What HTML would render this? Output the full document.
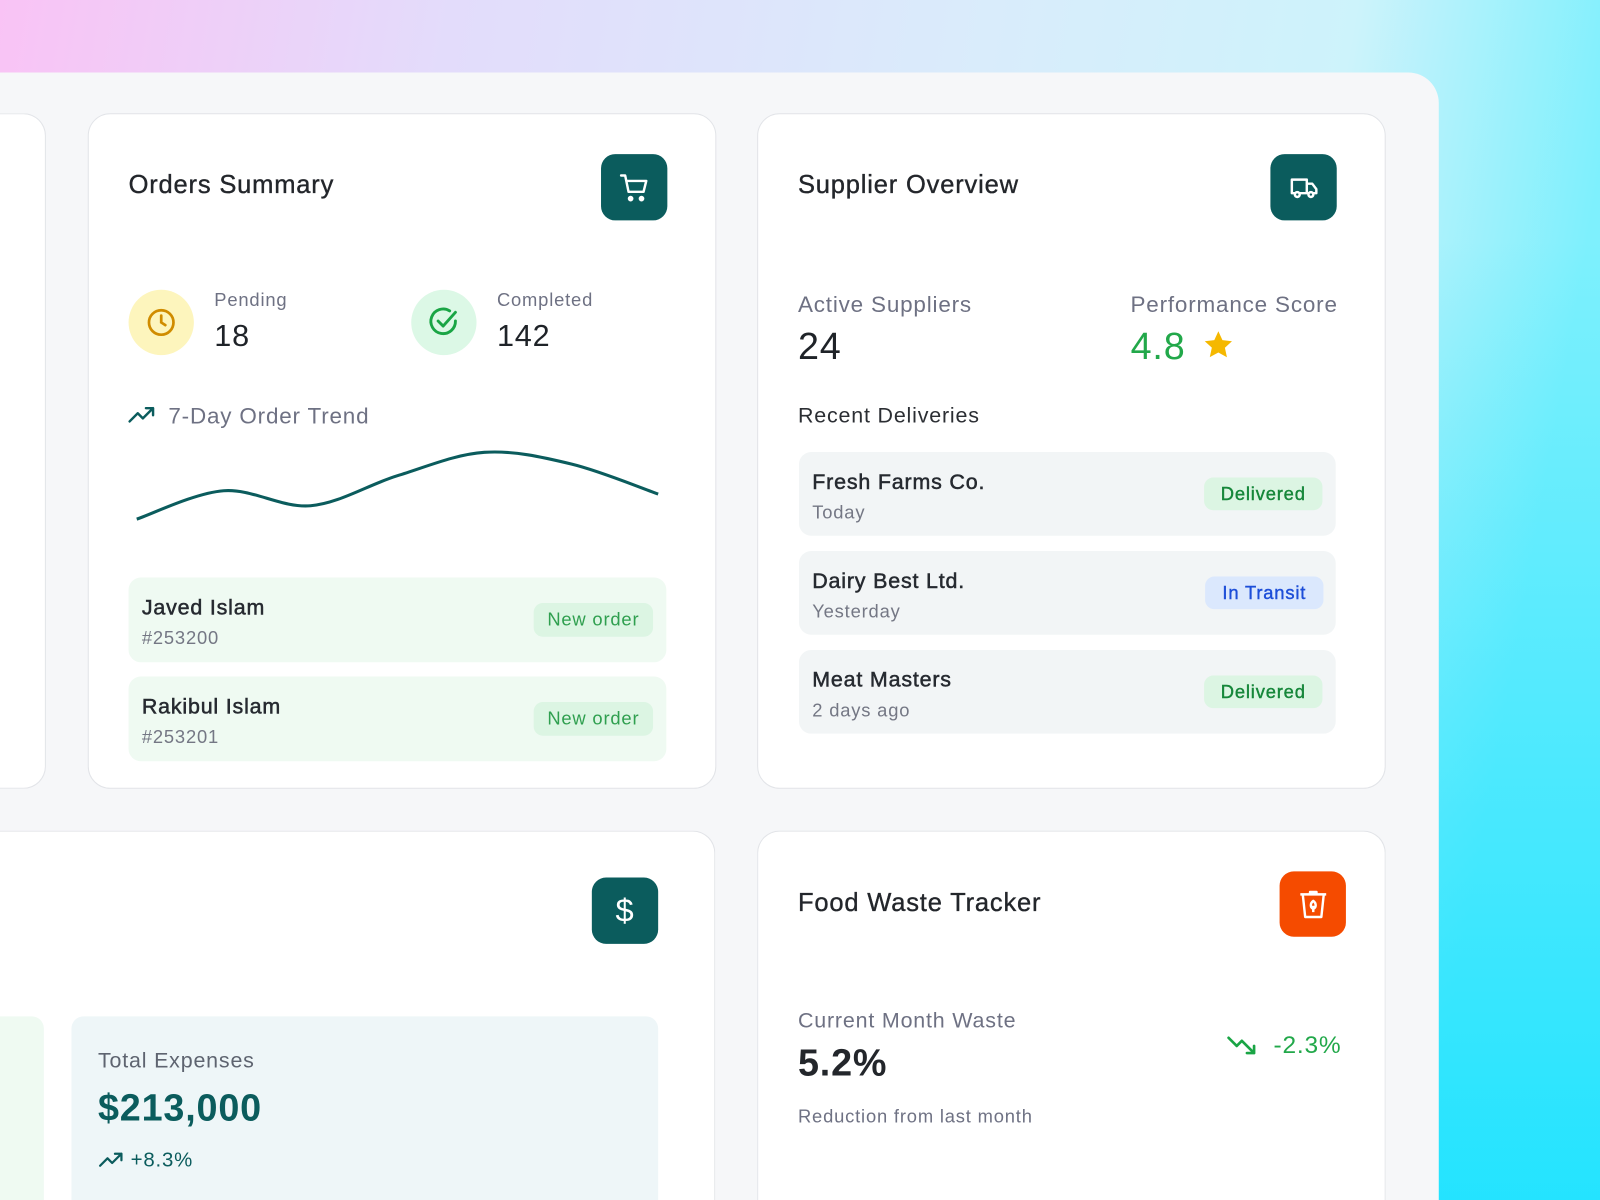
<!DOCTYPE html>
<html><head><meta charset="utf-8"><style>
*{box-sizing:border-box;margin:0;padding:0}
html,body{width:1600px;height:1200px;overflow:hidden;font-family:"Liberation Sans",sans-serif;color:#1f2328;letter-spacing:.05em}
#bg{position:absolute;left:0;top:0;width:1600px;height:1200px;background:linear-gradient(100deg,#f9c3f5 0%,#e3dcfb 25%,#d9ecfb 55%,#cdf3fb 75%,#7ef0fd 90%),#cdf;}
#bg2{position:absolute;left:0;top:0;width:1600px;height:1200px;background:linear-gradient(180deg,rgba(255,255,255,0) 0%,rgba(255,255,255,0) 20%,rgba(20,225,255,0.85) 100%)}
#stage{position:absolute;left:0;top:0;width:1568px;height:1176px;overflow:hidden;transform:scale(1.020408);transform-origin:0 0}
.abs{position:absolute}
.panel{position:absolute;left:0;top:71px;width:1410px;height:1105px;background:#f6f7f9;border-top-right-radius:30px}
.card{position:absolute;background:#fff;border:1.5px solid #e2e4e8;border-radius:22px}
.bcard{border-bottom:none;border-bottom-left-radius:0;border-bottom-right-radius:0}
.title{position:absolute;font-size:25px;color:#23262b;-webkit-text-stroke:.35px #23262b}
.icon{position:absolute;width:65px;height:65px;border-radius:14px;background:#0b5c5d;display:flex;align-items:center;justify-content:center}
.gray{color:#6e7183}
.row{position:absolute;border-radius:12px}
.name{position:absolute;font-size:21px;color:#262a30;-webkit-text-stroke:.5px #262a30}
.sub{position:absolute;font-size:18px;color:#747784}
.badge{position:absolute;border-radius:9px;font-size:18px;display:flex;align-items:center;justify-content:center;-webkit-text-stroke:.4px currentColor}
</style></head><body>
<div id="bg"></div>
<div id="bg2"></div>
<div id="stage">
<div class="panel"></div>
<div class="card" style="left:0;top:111px;width:45px;height:662px;border-left:none;border-top-left-radius:0;border-bottom-left-radius:0"></div>

<div class="card" style="left:86px;top:111px;width:616px;height:662px"></div>
<div class="title" style="left:126px;top:167px">Orders Summary</div>
<div class="icon" style="left:589px;top:151px">
<svg width="32" height="32" viewBox="0 0 24 24" fill="none" stroke="#fff" stroke-width="1.8" stroke-linecap="round" stroke-linejoin="round"><path d="M2 3h3l2.5 12h11l2-8H6"/><circle cx="9" cy="20" r="1.2" fill="#fff"/><circle cx="17" cy="20" r="1.2" fill="#fff"/></svg></div>
<div class="abs" style="left:126px;top:284px;width:64px;height:64px;border-radius:50%;background:#fdf5bd;display:flex;align-items:center;justify-content:center">
<svg width="32" height="32" viewBox="0 0 24 24" fill="none" stroke="#d08c00" stroke-width="2" stroke-linecap="round"><circle cx="12" cy="12" r="9"/><path d="M12 7v5l3 2"/></svg></div>
<div class="abs gray" style="left:210px;top:284px;font-size:18px">Pending</div>
<div class="abs" style="left:210px;top:313px;font-size:30px">18</div>
<div class="abs" style="left:403px;top:284px;width:64px;height:64px;border-radius:50%;background:#dcf8e6;display:flex;align-items:center;justify-content:center">
<svg width="34" height="34" viewBox="0 0 24 24" fill="none" stroke="#1aa545" stroke-width="2" stroke-linecap="round" stroke-linejoin="round"><path d="M20 11a8.5 8.5 0 1 1-4-7"/><path d="M8 11l3.5 3.5L20 5"/></svg></div>
<div class="abs gray" style="left:487px;top:284px;font-size:18px">Completed</div>
<div class="abs" style="left:487px;top:313px;font-size:30px">142</div>
<svg class="abs" style="left:125px;top:396px" width="28" height="22" viewBox="0 0 28 22" fill="none" stroke="#0b5c5d" stroke-width="2.4" stroke-linecap="round" stroke-linejoin="round"><path d="M2 17l8-8 5 5 10-10M18 4h7v7"/></svg>
<div class="abs gray" style="left:165px;top:395px;font-size:22px">7-Day Order Trend</div>
<svg id="chart" class="abs" style="left:0;top:0" width="700" height="560"></svg>

<div class="row" style="left:126px;top:566px;width:527px;height:83px;background:#effaf2"></div>
<div class="name" style="left:139px;top:584px">Javed Islam</div>
<div class="sub" style="left:139px;top:615px">#253200</div>
<div class="badge" style="left:523px;top:591px;width:117px;height:33px;background:#dcf5e3;color:#2f9f4f;-webkit-text-stroke:0">New order</div>
<div class="row" style="left:126px;top:663px;width:527px;height:83px;background:#effaf2"></div>
<div class="name" style="left:139px;top:681px">Rakibul Islam</div>
<div class="sub" style="left:139px;top:712px">#253201</div>
<div class="badge" style="left:523px;top:688px;width:117px;height:33px;background:#dcf5e3;color:#2f9f4f;-webkit-text-stroke:0">New order</div>

<div class="card" style="left:742px;top:111px;width:616px;height:662px"></div>
<div class="title" style="left:782px;top:167px">Supplier Overview</div>
<div class="icon" style="left:1245px;top:151px">
<svg width="32" height="32" viewBox="0 0 24 24" fill="none" stroke="#fff" stroke-width="1.8" stroke-linejoin="round"><path d="M3 6h11v10H3zM14 9h4l3 4v3h-7z"/><circle cx="7" cy="17" r="1.8" fill="#0b5c5d"/><circle cx="17" cy="17" r="1.8" fill="#0b5c5d"/></svg></div>
<div class="abs gray" style="left:782px;top:286px;font-size:22px">Active Suppliers</div>
<div class="abs" style="left:782px;top:319px;font-size:37px">24</div>
<div class="abs gray" style="left:1040px;width:271px;text-align:right;top:286px;font-size:22px">Performance Score</div>
<div class="abs" style="left:1108px;top:319px;font-size:37px;color:#22a84a">4.8</div>
<svg class="abs" style="left:1177px;top:322px" width="34" height="32" viewBox="0 0 24 24"><path d="M12 2l3 6.5 7 .8-5.2 4.8 1.5 7L12 17.6 5.7 21l1.5-7L2 9.3l7-.8z" fill="#f5b800"/></svg>
<div class="abs" style="left:782px;top:396px;font-size:21px;color:#2b2e33">Recent Deliveries</div>

<div class="row" style="left:783px;top:443px;width:526px;height:82px;background:#f2f5f6"></div>
<div class="name" style="left:796px;top:461px">Fresh Farms Co.</div>
<div class="sub" style="left:796px;top:492px">Today</div>
<div class="badge" style="left:1180px;top:468px;width:116px;height:32px;background:#dcf5e3;color:#16873a">Delivered</div>
<div class="row" style="left:783px;top:540px;width:526px;height:82px;background:#f2f5f6"></div>
<div class="name" style="left:796px;top:558px">Dairy Best Ltd.</div>
<div class="sub" style="left:796px;top:589px">Yesterday</div>
<div class="badge" style="left:1181px;top:565px;width:116px;height:32px;background:#dbe8fd;color:#1d4ed8">In Transit</div>
<div class="row" style="left:783px;top:637px;width:526px;height:82px;background:#f2f5f6"></div>
<div class="name" style="left:796px;top:655px">Meat Masters</div>
<div class="sub" style="left:796px;top:686px">2 days ago</div>
<div class="badge" style="left:1180px;top:662px;width:116px;height:32px;background:#dcf5e3;color:#16873a">Delivered</div>

<div class="card bcard" style="left:0;top:814px;width:701px;height:362px;border-left:none;border-top-left-radius:0"></div>
<div class="icon" style="left:580px;top:860px"><span style="color:#fff;font-size:32px">$</span></div>
<div class="row" style="left:0;top:996px;width:43px;height:180px;background:#effaf2;border-radius:0 12px 0 0"></div>
<div class="row" style="left:70px;top:996px;width:575px;height:180px;background:#eef6f8;border-radius:12px 12px 0 0"></div>
<div class="abs gray" style="left:96px;top:1028px;font-size:21px;color:#5e6470">Total Expenses</div>
<div class="abs" style="left:96px;top:1065px;font-size:37px;font-weight:bold;color:#0b5c5d">$213,000</div>
<svg class="abs" style="left:96px;top:1127px" width="26" height="20" viewBox="0 0 28 22" fill="none" stroke="#0b5c5d" stroke-width="2.4" stroke-linecap="round" stroke-linejoin="round"><path d="M2 17l8-8 5 5 10-10M18 4h7v7"/></svg>
<div class="abs" style="left:128px;top:1126px;font-size:20px;color:#0b5c5d">+8.3%</div>

<div class="card bcard" style="left:742px;top:814px;width:616px;height:362px"></div>
<div class="title" style="left:782px;top:871px">Food Waste Tracker</div>
<div class="icon" style="left:1254px;top:854px;width:65px;height:64px;background:#f54b00">
<svg width="38" height="38" viewBox="0 0 24 24" fill="none" stroke="#fff" stroke-width="1.5" stroke-linejoin="round"><path d="M4 6h16M10 6V4.5h4V6M5.5 6l1.5 14h10l1.5-14"/><path d="M12 10c2 1.5 2 4 0 5-2-1-2-3.5 0-5zM12 13v4"/></svg></div>
<div class="abs gray" style="left:782px;top:989px;font-size:21px">Current Month Waste</div>
<div class="abs" style="left:782px;top:1021px;font-size:37px;font-weight:bold;color:#23262b">5.2%</div>
<div class="abs gray" style="left:782px;top:1084px;font-size:18px">Reduction from last month</div>
<svg class="abs" style="left:1202px;top:1013px" width="32" height="24" viewBox="0 0 32 24" fill="none" stroke="#1aa545" stroke-width="2.6" stroke-linecap="round" stroke-linejoin="round"><path d="M2 4l8 8 5-5 12 12M20 19h7v-7"/></svg>
<div class="abs" style="left:1248px;top:1011px;font-size:24px;color:#22a84a">-2.3%</div>
</div>
<script>
const days=["Mon","Tue","Wed","Thu","Fri","Sat","Sun"];
const orders=[11,19.5,15,24,31,27.5,18.5];
const x0=134,x1=645,yMin=10,yMax=32,yBot=512,yTop=440;
function xs(i){return x0+(x1-x0)*i/(days.length-1);}
function ys(v){return yBot-(v-yMin)/(yMax-yMin)*(yBot-yTop);}
const pts=orders.map((v,i)=>[xs(i),ys(v)]);
let d="M"+pts[0][0]+","+pts[0][1];
for(let i=0;i<pts.length-1;i++){
 const p0=pts[Math.max(0,i-1)],p1=pts[i],p2=pts[i+1],p3=pts[Math.min(pts.length-1,i+2)];
 const c1=[p1[0]+(p2[0]-p0[0])/6,p1[1]+(p2[1]-p0[1])/6],c2=[p2[0]-(p3[0]-p1[0])/6,p2[1]-(p3[1]-p1[1])/6];
 d+=" C"+c1+" "+c2+" "+p2;
}
const path=document.createElementNS("http://www.w3.org/2000/svg","path");
path.setAttribute("d",d);path.setAttribute("fill","none");path.setAttribute("stroke","#0b5c5d");path.setAttribute("stroke-width","3");


document.getElementById("chart").appendChild(path);
</script>
</body></html>
